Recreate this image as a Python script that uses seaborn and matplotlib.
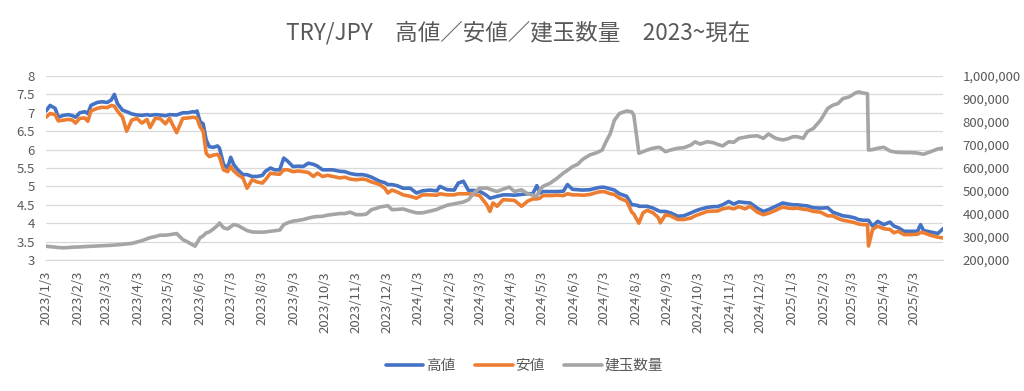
import matplotlib
matplotlib.use("Agg")
import matplotlib.pyplot as plt
from matplotlib.ticker import FuncFormatter, MultipleLocator
import seaborn as sns
import pandas as pd

# ---------------- data ----------------
dates = ["2023-01-03","2023-01-07","2023-01-12","2023-01-15","2023-01-20","2023-01-25","2023-01-29","2023-02-01","2023-02-05","2023-02-10",
"2023-02-13","2023-02-16","2023-02-22","2023-02-27","2023-03-04","2023-03-08","2023-03-11","2023-03-14","2023-03-19","2023-03-23",
"2023-03-28","2023-04-02","2023-04-07","2023-04-12","2023-04-15","2023-04-20","2023-04-25","2023-04-30","2023-05-04","2023-05-11",
"2023-05-17","2023-05-22","2023-05-27","2023-05-29","2023-05-31","2023-06-03","2023-06-06","2023-06-09","2023-06-12","2023-06-16",
"2023-06-20","2023-06-22","2023-06-26","2023-06-30","2023-07-03","2023-07-06","2023-07-10","2023-07-15","2023-07-19","2023-07-24",
"2023-07-29","2023-08-03","2023-08-06","2023-08-11","2023-08-15","2023-08-20","2023-08-24","2023-08-28","2023-09-02","2023-09-07",
"2023-09-12","2023-09-17","2023-09-22","2023-09-26","2023-10-01","2023-10-06","2023-10-11","2023-10-18","2023-10-23","2023-10-28",
"2023-11-03","2023-11-09","2023-11-13","2023-11-18","2023-11-23","2023-11-26","2023-12-01","2023-12-04","2023-12-08","2023-12-13",
"2023-12-19","2023-12-26","2024-01-01","2024-01-07","2024-01-14","2024-01-21","2024-01-24","2024-01-31","2024-02-07","2024-02-11",
"2024-02-16","2024-02-21","2024-02-27","2024-03-03","2024-03-06","2024-03-10","2024-03-13","2024-03-16","2024-03-20","2024-03-26",
"2024-04-01","2024-04-06","2024-04-13","2024-04-19","2024-04-24","2024-04-28","2024-05-01","2024-05-04","2024-05-11","2024-05-18",
"2024-05-24","2024-05-28","2024-06-02","2024-06-07","2024-06-12","2024-06-19","2024-06-26","2024-07-01","2024-07-04","2024-07-09",
"2024-07-13","2024-07-18","2024-07-25","2024-07-30","2024-08-01","2024-08-05","2024-08-06","2024-08-10","2024-08-14","2024-08-20",
"2024-08-25","2024-08-27","2024-09-01","2024-09-06","2024-09-13","2024-09-19","2024-09-26","2024-09-30","2024-10-05","2024-10-12",
"2024-10-18","2024-10-22","2024-10-27","2024-11-02","2024-11-07","2024-11-12","2024-11-18","2024-11-23","2024-11-30","2024-12-06",
"2024-12-11","2024-12-18","2024-12-25","2024-12-30","2025-01-04","2025-01-08","2025-01-14","2025-01-18","2025-01-24","2025-01-31",
"2025-02-07","2025-02-12","2025-02-17","2025-02-22","2025-02-28","2025-03-06","2025-03-09","2025-03-14","2025-03-18","2025-03-19",
"2025-03-23","2025-03-28","2025-04-03","2025-04-09","2025-04-13","2025-04-17","2025-04-23","2025-04-29","2025-05-06","2025-05-09",
"2025-05-12","2025-05-19","2025-05-26","2025-05-31"]

high = [7.05,7.2,7.12,6.88,6.93,6.95,6.92,6.88,7.0,7.03,
6.98,7.2,7.28,7.3,7.28,7.35,7.5,7.25,7.07,7.03,
6.97,6.94,6.93,6.95,6.93,6.95,6.94,6.92,6.95,6.94,
7.0,7.0,7.03,7.02,7.05,6.76,6.7,6.26,6.08,6.06,
6.1,6.04,5.6,5.5,5.79,5.59,5.45,5.32,5.32,5.27,
5.27,5.3,5.41,5.5,5.45,5.45,5.77,5.68,5.54,5.55,
5.54,5.63,5.6,5.55,5.45,5.45,5.45,5.41,5.4,5.35,
5.32,5.32,5.3,5.25,5.18,5.14,5.1,5.05,5.05,5.02,
4.95,4.95,4.82,4.88,4.9,4.88,5.0,4.91,4.9,5.09,
5.14,4.89,4.89,4.86,4.82,4.75,4.68,4.7,4.73,4.77,
4.77,4.76,4.78,4.8,4.8,5.02,4.82,4.86,4.86,4.86,
4.87,5.05,4.92,4.91,4.9,4.91,4.96,4.98,4.97,4.93,
4.9,4.8,4.73,4.5,4.5,4.48,4.46,4.46,4.46,4.41,
4.34,4.32,4.32,4.28,4.19,4.2,4.28,4.33,4.38,4.43,
4.45,4.45,4.5,4.59,4.52,4.58,4.56,4.55,4.41,4.32,
4.37,4.46,4.55,4.52,4.5,4.5,4.48,4.47,4.42,4.41,
4.42,4.3,4.25,4.2,4.18,4.14,4.1,4.08,4.08,4.08,
3.92,4.05,3.96,4.03,3.92,3.88,3.78,3.78,3.78,3.96,
3.8,3.76,3.72,3.85]

low = [6.88,6.98,6.95,6.78,6.8,6.82,6.8,6.72,6.85,6.86,
6.77,7.05,7.12,7.15,7.14,7.2,7.18,7.05,6.88,6.5,
6.8,6.85,6.72,6.82,6.6,6.85,6.84,6.7,6.85,6.46,
6.85,6.86,6.88,6.87,6.85,6.62,6.5,5.9,5.81,5.85,
5.87,5.8,5.45,5.4,5.54,5.42,5.32,5.23,4.95,5.18,
5.12,5.09,5.18,5.36,5.34,5.33,5.45,5.45,5.4,5.42,
5.4,5.38,5.27,5.36,5.27,5.3,5.27,5.23,5.25,5.2,
5.18,5.2,5.18,5.12,5.08,5.05,4.95,4.82,4.9,4.85,
4.77,4.73,4.68,4.77,4.77,4.76,4.8,4.77,4.77,4.8,
4.8,4.8,4.78,4.75,4.64,4.5,4.32,4.55,4.46,4.64,
4.63,4.62,4.46,4.6,4.66,4.66,4.68,4.75,4.75,4.76,
4.75,4.8,4.77,4.77,4.76,4.78,4.84,4.86,4.85,4.8,
4.78,4.68,4.6,4.3,4.25,4.05,4.0,4.28,4.35,4.28,
4.15,4.01,4.23,4.2,4.1,4.1,4.14,4.2,4.25,4.32,
4.33,4.33,4.39,4.42,4.39,4.45,4.39,4.46,4.3,4.23,
4.27,4.35,4.44,4.41,4.4,4.41,4.38,4.37,4.32,4.3,
4.2,4.2,4.13,4.08,4.05,4.01,3.98,3.96,3.96,3.38,
3.83,3.92,3.85,3.83,3.74,3.78,3.69,3.69,3.7,3.75,
3.74,3.67,3.62,3.6]

open_interest = [260,258,256,254,253,254,256,256,257,258,
259,260,261,262,263,264,265,266,268,270,
272,278,284,292,297,302,308,308,310,315,
289,278,265,260,275,297,305,318,322,335,
350,361,340,335,345,354,350,338,328,322,
321,321,322,325,327,330,354,362,369,372,
376,382,387,389,390,395,398,402,402,408,
397,397,400,419,425,430,434,436,419,420,
422,412,405,405,412,420,426,438,444,448,
452,462,494,513,512,513,508,503,498,508,
517,498,505,488,482,478,505,520,534,556,
578,590,606,616,638,657,667,678,707,750,
808,837,848,844,830,700,664,671,678,686,
690,688,671,678,686,688,700,714,704,714,
710,703,696,714,712,729,734,738,740,729,
748,729,722,727,736,736,729,758,772,808,
859,873,880,902,909,926,931,926,923,678,
680,686,690,674,670,668,667,667,665,662,
660,671,683,686]  # thousands

labels = ["高値", "安値", "建玉数量"]
title = "TRY/JPY　高値／安値／建玉数量　2023~現在"

assert len(dates) == len(high) == len(low) == len(open_interest)

df = pd.DataFrame({
    "date": pd.to_datetime(dates),
    "high": high,
    "low": low,
    "oi": [v * 1000 for v in open_interest],
})

# ---------------- style ----------------
sns.set_theme(style="white")
plt.rcParams["font.family"] = ["Noto Sans CJK JP", "DejaVu Sans"]
TXT = "#595959"
GRID = "#D9D9D9"
C_HIGH, C_LOW, C_OI = "#4472C4", "#ED7D31", "#A5A5A5"

fig = plt.figure(figsize=(10.24, 3.91), dpi=100)
ax = fig.add_axes([46 / 1024, 1 - 260 / 391, (943 - 46) / 1024, 184 / 391])
ax2 = ax.twinx()

LW = 2.6
sns.lineplot(data=df, x="date", y="high", ax=ax, color=C_HIGH, lw=LW, label=labels[0], legend=False)
sns.lineplot(data=df, x="date", y="low", ax=ax, color=C_LOW, lw=LW, label=labels[1], legend=False)
sns.lineplot(data=df, x="date", y="oi", ax=ax2, color=C_OI, lw=LW, label=labels[2], legend=False)

ax.set_ylim(3, 8)
ax.yaxis.set_major_locator(MultipleLocator(0.5))
ax.yaxis.set_major_formatter(FuncFormatter(lambda v, p: f"{v:g}"))
ax2.set_ylim(200000, 1000000)
ax2.yaxis.set_major_locator(MultipleLocator(100000))
ax2.yaxis.set_major_formatter(FuncFormatter(lambda v, p: f"{int(v):,}"))

ax.set_xlim(pd.Timestamp("2023-01-03"), pd.Timestamp("2025-05-31"))
ticks = pd.date_range("2023-01-01", "2025-05-01", freq="MS") + pd.Timedelta(days=2)
ax.set_xticks(ticks)
ax.set_xticklabels([f"{d.year}/{d.month}/{d.day}" for d in ticks], rotation=90)

ax.grid(axis="y", color=GRID, lw=0.9)
ax.grid(axis="x", visible=False)
ax2.grid(False)
ax.set_axisbelow(True)
for a in (ax, ax2):
    for s in a.spines.values():
        s.set_visible(False)
    a.set_xlabel("")
    a.set_ylabel("")
ax.spines["bottom"].set_visible(True)
ax.spines["bottom"].set_color(GRID)
ax.spines["bottom"].set_linewidth(0.9)

ax.tick_params(axis="x", colors=GRID, labelcolor=TXT, labelsize=9.5, length=5, width=0.9, direction="out", pad=3)
ax.tick_params(axis="y", length=0, labelcolor=TXT, labelsize=9.5, pad=8)
ax2.tick_params(axis="y", length=0, labelcolor=TXT, labelsize=9.5, pad=14)

fig.text(0.506, 1 - 33 / 391, title, ha="center", va="center", fontsize=16.2, color=TXT)

handles = ax.get_lines()[:2] + ax2.get_lines()[:1]
leg = fig.legend(handles, labels, loc="center", bbox_to_anchor=(0.512, 1 - 366 / 391),
                 ncol=3, frameon=False, fontsize=10.5, handlelength=2.6, columnspacing=1.3,
                 handletextpad=0.2)
for t in leg.get_texts():
    t.set_color(TXT)

fig.savefig("out.png", dpi=100)
